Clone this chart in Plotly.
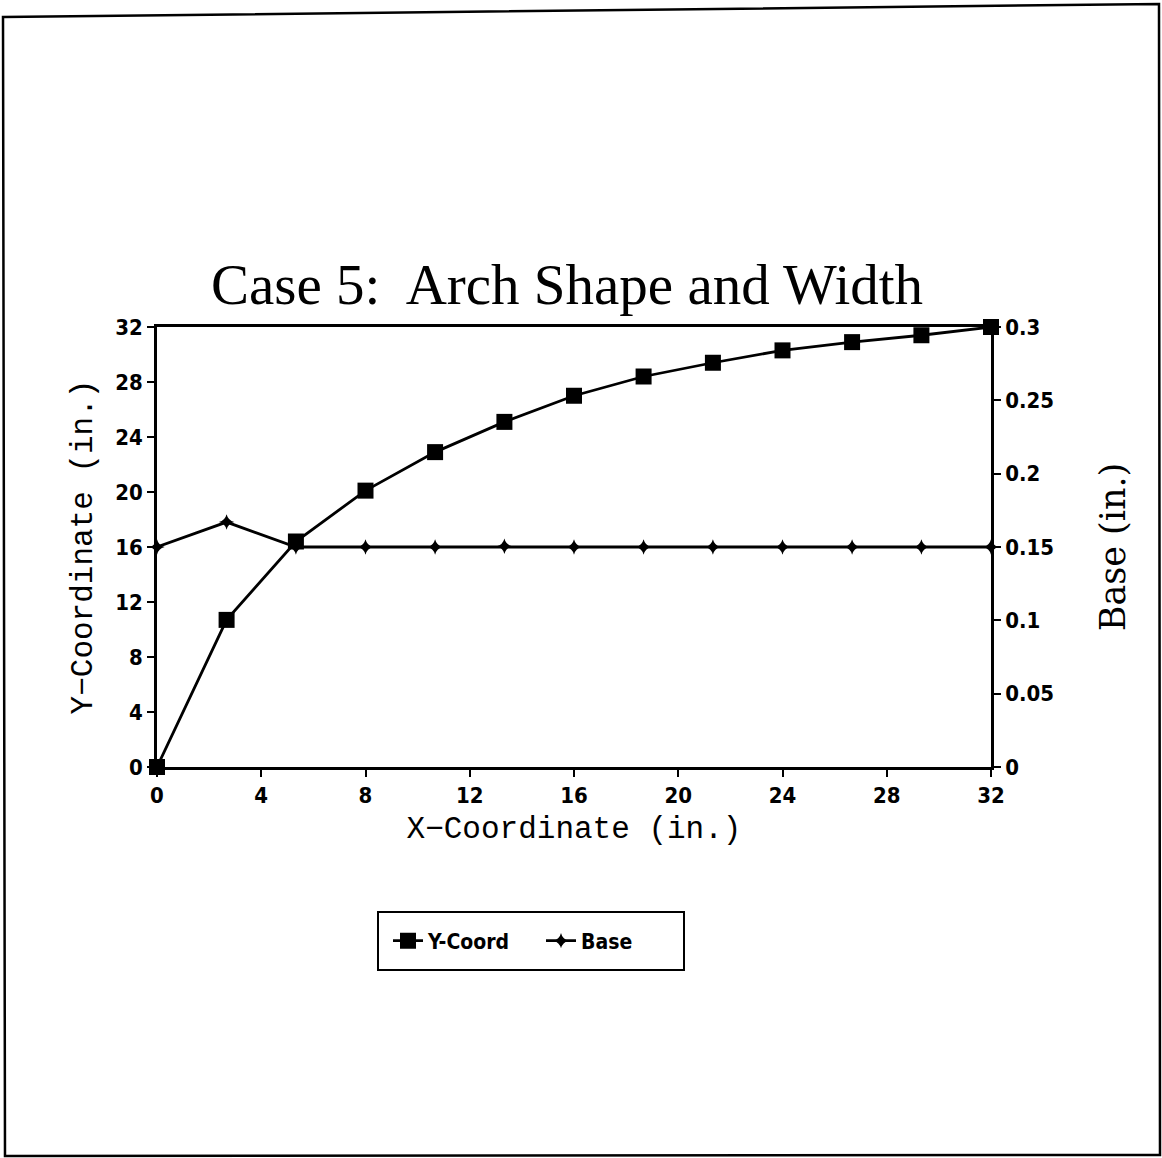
import plotly.graph_objects as go

x_coord = [0, 2.67, 5.33, 8, 10.67, 13.33, 16, 18.67, 21.33, 24, 26.67, 29.33, 32]
y_coord = [0, 10.7, 16.4, 20.1, 22.9, 25.1, 27.0, 28.4, 29.4, 30.3, 30.9, 31.4, 32.0]
base = [0.15, 0.167, 0.15, 0.15, 0.15, 0.1505, 0.15, 0.15, 0.15, 0.15, 0.15, 0.15, 0.15]
x_ticks = [0, 4, 8, 12, 16, 20, 24, 28, 32]
y_ticks = [0, 4, 8, 12, 16, 20, 24, 28, 32]
base_ticks = [0, 0.05, 0.1, 0.15, 0.2, 0.25, 0.3]

W, H = 1162, 1158
L, R, T, B = 157, 991, 327, 767  # pixel positions of plot area

cond = "DejaVu Sans Condensed, Liberation Sans Narrow, Liberation Sans, Arial"
tickfont = dict(family=cond, size=22, color="black", weight="bold")
mono = dict(family="Liberation Mono, Courier New, monospace", size=31, color="black")

fig = go.Figure()
fig.add_trace(go.Scatter(
    x=x_coord, y=y_coord, name="Y-Coord", mode="lines+markers",
    line=dict(color="black", width=2.8),
    marker=dict(symbol="square", size=16, color="black"),
    yaxis="y", cliponaxis=False))
fig.add_trace(go.Scatter(
    x=x_coord, y=base, name="Base", mode="lines+markers",
    line=dict(color="black", width=2.8),
    marker=dict(symbol="star-diamond", size=11, color="black"),
    yaxis="y2", cliponaxis=False))

fig.update_layout(
    width=W, height=H,
    margin=dict(l=L, r=W - R, t=T, b=H - B, pad=0),
    paper_bgcolor="white", plot_bgcolor="white",
    title=dict(text="Case 5:  Arch Shape and Width", x=567 / W, xanchor="center",
               y=1 - 304 / H, yanchor="bottom",
               font=dict(family="Liberation Serif, Times New Roman, serif", size=57, color="black")),
    xaxis=dict(range=[0, 32], tickvals=x_ticks, ticks="outside", ticklen=7, tickwidth=2,
               tickcolor="black", showgrid=False, zeroline=False, showline=True, linewidth=2.5,
               linecolor="black", mirror=True, tickfont=tickfont,
               title=dict(text="X\u2212Coordinate (in.)", font=mono, standoff=10)),
    yaxis=dict(range=[0, 32], tickvals=y_ticks, ticks="outside", ticklen=7, tickwidth=2,
               tickcolor="black", showgrid=False, zeroline=False, showline=True, linewidth=2.5,
               linecolor="black", tickfont=tickfont,
               title=dict(text="Y\u2212Coordinate (in.)", font=mono, standoff=14)),
    yaxis2=dict(range=[0, 0.3], tickvals=base_ticks, overlaying="y", side="right",
                ticks="outside", ticklen=7, tickwidth=2, tickcolor="black", showgrid=False,
                zeroline=False, showline=True, linewidth=2.5, linecolor="black", tickfont=tickfont,
                title=dict(text="Base (in.)", standoff=48,
                           font=dict(family="DejaVu Serif, serif", size=35, color="black"))),
    legend=dict(orientation="h", x=(388 - L) / (R - L), y=(B - 941) / (B - T),
                xanchor="left", yanchor="middle", borderwidth=0,
                bgcolor="rgba(0,0,0,0)", entrywidth=108, entrywidthmode="pixels",
                font=dict(family=cond, size=21, color="black", weight="bold")),
    showlegend=True,
)


def px_x(p):
    return (p - L) / (R - L)


def px_y(p):
    return (B - p) / (B - T)


# legend frame
fig.add_shape(type="rect", xref="paper", yref="paper",
              x0=px_x(378), x1=px_x(684), y0=px_y(970), y1=px_y(912),
              line=dict(color="black", width=2), layer="above")

# scanned page border
fig.add_shape(type="path", xref="paper", yref="paper",
              path=f"M {px_x(3)},{px_y(17)} L {px_x(1159)},{px_y(4)} L {px_x(1160)},{px_y(1155)} L {px_x(5)},{px_y(1156)} Z",
              line=dict(color="black", width=2.5), layer="above")

fig.write_html("out.html", config={"displayModeBar": False},
               post_script="document.body.style.margin='0px';")
